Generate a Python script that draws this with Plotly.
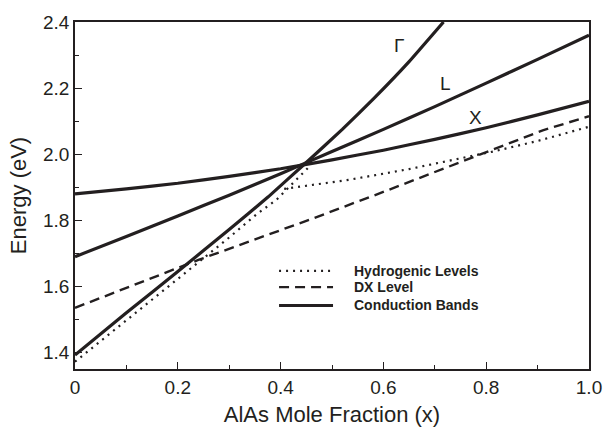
import plotly.graph_objects as go

INK = "#231f20"
FONT = "Arial, Liberation Sans, Helvetica, sans-serif"

# Conduction bands
x_gamma = [0, 0.1, 0.2, 0.3, 0.376, 0.45, 0.52, 0.583, 0.65, 0.717]
e_gamma = [1.392, 1.52, 1.645, 1.772, 1.871, 1.975, 2.075, 2.171, 2.28, 2.4]

x_L = [0, 0.1, 0.2, 0.3, 0.4, 0.5, 0.6, 0.7, 0.8, 0.9, 1.0]
e_L = [1.69, 1.751, 1.813, 1.876, 1.941, 2.008, 2.075, 2.144, 2.215, 2.287, 2.36]

x_X = [0, 0.1, 0.2, 0.3, 0.4, 0.5, 0.6, 0.7, 0.8, 0.9, 1.0]
e_X = [1.88, 1.895, 1.912, 1.933, 1.956, 1.983, 2.012, 2.045, 2.08, 2.119, 2.16]

# Hydrogenic levels (two branches)
x_hyd_gamma = [0, 0.1, 0.2, 0.3, 0.354, 0.392, 0.453]
e_hyd_gamma = [1.372, 1.497, 1.622, 1.748, 1.819, 1.862, 1.958]
x_hyd_X = [0.407, 0.535, 0.65, 0.813, 0.9, 1.0]
e_hyd_X = [1.895, 1.923, 1.955, 2.008, 2.04, 2.083]

# DX level
x_dx = [0, 0.24, 0.46, 0.59, 0.91, 1.0]
e_dx = [1.535, 1.68, 1.804, 1.88, 2.072, 2.115]

band_labels = ["Γ", "L", "X"]
label_x = [0.631, 0.721, 0.78]
label_y = [2.33, 2.214, 2.112]

legend_names = ["Hydrogenic Levels", "DX Level", "Conduction Bands"]

x_ticks = [0, 0.2, 0.4, 0.6, 0.8, 1.0]
x_ticktext = ["0", "0.2", "0.4", "0.6", "0.8", "1.0"]
y_ticks = [1.4, 1.6, 1.8, 2.0, 2.2, 2.4]
y_ticktext = ["1.4", "1.6", "1.8", "2.0", "2.2", "2.4"]

DOT = dict(color=INK, width=2.2, dash="2px,5px")
DASH = dict(color=INK, width=2.4, dash="10px,6px")
SOLID = dict(color=INK, width=3.2)

fig = go.Figure()

fig.add_trace(go.Scatter(
    x=x_hyd_gamma + [None] + x_hyd_X, y=e_hyd_gamma + [None] + e_hyd_X,
    mode="lines", name=legend_names[0], connectgaps=False, line=DOT))
fig.add_trace(go.Scatter(
    x=x_dx, y=e_dx, mode="lines", name=legend_names[1], line=DASH))
fig.add_trace(go.Scatter(
    x=x_gamma, y=e_gamma, mode="lines", name=legend_names[2],
    line=dict(SOLID, shape="spline", smoothing=0.3)))
fig.add_trace(go.Scatter(
    x=x_L, y=e_L, mode="lines", name="L",
    line=dict(SOLID, shape="spline", smoothing=0.3)))
fig.add_trace(go.Scatter(
    x=x_X, y=e_X, mode="lines", name="X",
    line=dict(SOLID, shape="spline", smoothing=0.3)))

for t, lx, ly in zip(band_labels, label_x, label_y):
    fig.add_annotation(x=lx, y=ly, text=t, showarrow=False,
                       font=dict(family=FONT, size=19, color=INK))

# Legend drawn manually (long sample lines like the original)
leg_rows = [0.283, 0.236, 0.183]
leg_styles = [DOT, DASH, SOLID]
for name, ry, st in zip(legend_names, leg_rows, leg_styles):
    fig.add_shape(type="line", xref="paper", yref="paper",
                  x0=0.397, x1=0.502, y0=ry, y1=ry, line=st)
    fig.add_annotation(xref="paper", yref="paper", x=0.538, y=ry,
                       xanchor="left", yanchor="middle", showarrow=False,
                       text="<b>%s</b>" % name,
                       font=dict(family=FONT, size=14, color=INK))

axis_common = dict(
    showgrid=False, zeroline=False, showline=True, linecolor=INK, linewidth=1.5,
    mirror=True, ticks="inside", ticklen=7, tickwidth=1.3, tickcolor=INK,
    tickfont=dict(family=FONT, size=19, color=INK),
    minor=dict(ticks="inside", ticklen=4, tickwidth=1.3, tickcolor=INK, dtick=0.1),
)

fig.update_xaxes(range=[0, 1.0], tickvals=x_ticks, ticktext=x_ticktext,
                 title=dict(text="AlAs Mole Fraction (x)", standoff=10,
                            font=dict(family=FONT, size=22, color=INK)),
                 **axis_common)
fig.update_yaxes(range=[1.35, 2.4], tickvals=y_ticks, ticktext=y_ticktext,
                 title=dict(text="Energy (eV)", standoff=10,
                            font=dict(family=FONT, size=22, color=INK)),
                 **axis_common)

fig.update_layout(
    width=614, height=435,
    margin=dict(l=75, r=15, t=18, b=57),
    paper_bgcolor="white", plot_bgcolor="white",
    showlegend=False,
)

fig.write_html("out.html")
